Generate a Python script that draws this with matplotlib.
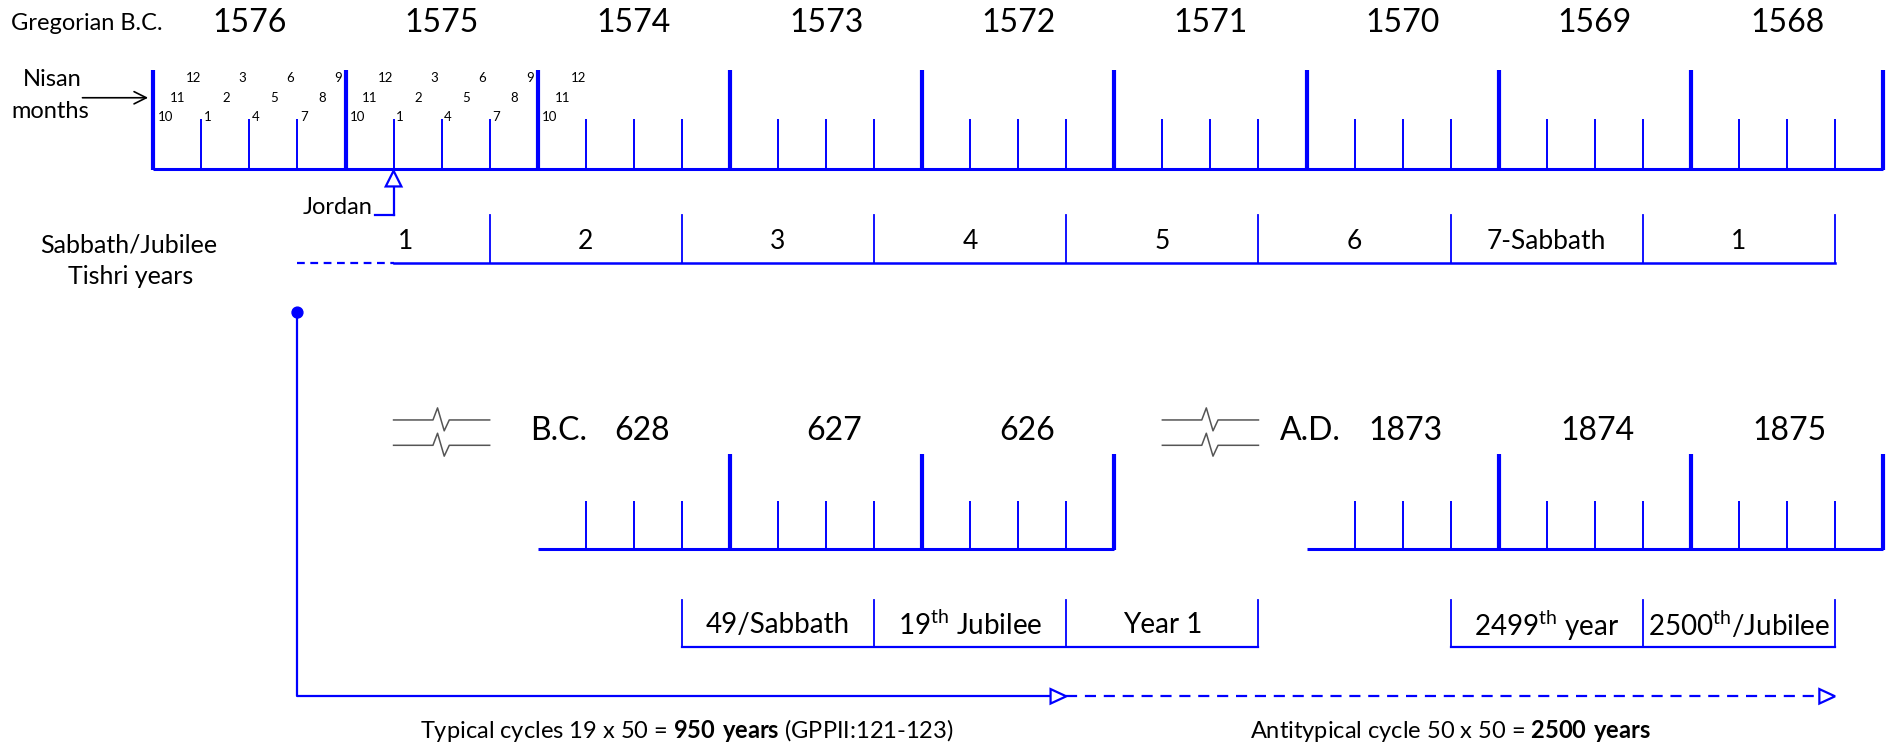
import matplotlib.pyplot as plt
from matplotlib.patches import Polygon, Circle

plt.rcParams["font.family"] = ["Lato", "DejaVu Sans"]
plt.rcParams["mathtext.fontset"] = "custom"
plt.rcParams["mathtext.rm"] = "Lato"
plt.rcParams["mathtext.bf"] = "Lato:bold"

BLUE = "#0000ff"
GRAY = "#555555"

# data
gregorian_years = [1576, 1575, 1574, 1573, 1572, 1571, 1570, 1569, 1568]
month_labels = ["10", "11", "12", "1", "2", "3", "4", "5", "6", "7", "8", "9"]
tishri_labels = ["1", "2", "3", "4", "5", "6", "7-Sabbath", "1"]
bc_years = [628, 627, 626]
ad_years = [1873, 1874, 1875]
typical_boxes = ["49/Sabbath", "19$^{\\rm th}$ Jubilee", "Year 1"]
antitypical_boxes = ["2499$^{\\rm th}$ year", "2500$^{\\rm th}$/Jubilee"]
jordan_t = 1.25          # Nisan of the 2nd year
typical_start_t = 0.75   # Tishri before Jordan

# layout (units = pixels of a 1568 wide canvas)
X0, YW = 127, 159.2


def X(t):
    return X0 + YW * t


def open_head(ax, x, y, direction, length=14, half=6.5):
    if direction == "right":
        pts = [(x, y), (x - length, y - half), (x - length, y + half)]
    else:  # up (y axis inverted)
        pts = [(x, y), (x - half, y + length), (x + half, y + length)]
    ax.add_patch(Polygon(pts, closed=True, fc="white", ec=BLUE, lw=1.6, zorder=5))


def timeline(ax, t0, t1, base, thick_top, thin_top, tick_at_start):
    ax.plot([X(t0), X(t1)], [base, base], color=BLUE, lw=2.2, solid_capstyle="butt")
    n = int(round((t1 - t0) * 4))
    for q in range(0 if tick_at_start else 1, n + 1):
        t = t0 + q / 4
        if q % 4 == 0:
            ax.plot([X(t), X(t)], [base + 1, thick_top], color=BLUE, lw=3.0, solid_capstyle="butt")
        else:
            ax.plot([X(t), X(t)], [base, thin_top], color=BLUE, lw=1.4, solid_capstyle="butt")


def open_boxes(ax, t_edges, top, base, labels, y_text, fs, label_x=None):
    ax.plot([X(t_edges[0]), X(t_edges[-1])], [base, base], color=BLUE, lw=1.6)
    for t in t_edges:
        ax.plot([X(t), X(t)], [top, base], color=BLUE, lw=1.3)
    for i, lab in enumerate(labels):
        xc = (X(t_edges[i]) + X(t_edges[i + 1])) / 2 if label_x is None or label_x[i] is None else label_x[i]
        ax.text(xc, y_text, lab, ha="center", va="center", fontsize=fs)


def break_mark(ax, t0, t1, ys):
    xa, xb = X(t0), X(t1)
    xm = xa + 0.41 * (xb - xa)
    w = 13.5
    for y in ys:
        ax.plot([xa, xm, xm + 0.28 * w, xm + 0.69 * w, xm + w, xb],
                [y, y, y - 10, y + 9, y, y], color=GRAY, lw=1.1)


fig = plt.figure(figsize=(18.93, 7.47), dpi=100)
ax = fig.add_axes([0, 0, 1, 1])
ax.set_xlim(0, 1568)
ax.set_ylim(619, 0)
ax.axis("off")

# --- top: Gregorian years with Nisan months ---
ax.text(9.5, 19.5, "Gregorian B.C.", ha="left", va="center", fontsize=17)
for k, yr in enumerate(gregorian_years):
    ax.text(X(k + 0.5), 19, str(yr), ha="center", va="center", fontsize=23)

timeline(ax, 0, len(gregorian_years), 140, 58, 99, True)

rows_y = [97, 81, 65]
n_months = 12 * 2 + 3
for j in range(n_months):
    yr, i = divmod(j, 12)
    lab = month_labels[i]
    xb = X(yr) + i * YW / 12
    if i % 3 == 0:
        ax.text(xb + (3.5 if i == 0 else 2), rows_y[0], lab, ha="left", va="center", fontsize=9.5)
    else:
        ax.text(xb + 7, rows_y[i % 3], lab, ha="center", va="center", fontsize=9.5)

ax.text(19, 66, "Nisan", ha="left", va="center", fontsize=17)
ax.text(9.5, 92, "months", ha="left", va="center", fontsize=17)
ax.annotate("", xy=(X(0) - 2, 81), xytext=(66, 81),
            arrowprops=dict(arrowstyle="->", color="black", lw=1.2, mutation_scale=22))

# Jordan crossing
xj = X(jordan_t)
ax.plot([xj, xj], [153, 178], color=BLUE, lw=1.6)
ax.plot([xj, 311], [178, 178], color=BLUE, lw=1.6)
open_head(ax, xj, 141.5, "up", length=13, half=6.5)
ax.text(309, 172, "Jordan", ha="right", va="center", fontsize=17)

# --- Sabbath / Jubilee Tishri years ---
ax.text(107, 203, "Sabbath/Jubilee", ha="center", va="center", fontsize=18)
ax.text(108, 229, "Tishri years", ha="center", va="center", fontsize=18)
ax.plot([X(typical_start_t), xj], [218, 218], color=BLUE, lw=1.6, ls=(0, (3.5, 2.5)))
ax.plot([xj, X(len(tishri_labels) + 0.75)], [218, 218], color=BLUE, lw=1.8)
for k in range(len(tishri_labels)):
    tx = X(k + 1.75)
    ax.plot([tx, tx], [178, 218], color=BLUE, lw=1.3)
for k, lab in enumerate(tishri_labels):
    if k == 0:
        xc = xj + 10
    else:
        xc = (X(k + 0.75) + X(k + 1.75)) / 2
    ax.text(xc, 200, lab, ha="center", va="center", fontsize=19)

# --- lower timelines ---
break_mark(ax, 1.25, 1.75, [348, 369])
break_mark(ax, 5.25, 5.75, [348, 369])
ax.text(463, 357, "B.C.", ha="center", va="center", fontsize=23)
for k, yr in enumerate(bc_years):
    ax.text(X(2 + k + 0.5) + 7, 357, str(yr), ha="center", va="center", fontsize=23)
ax.text(1085, 357, "A.D.", ha="center", va="center", fontsize=23)
for k, yr in enumerate(ad_years):
    ax.text(X(6 + k + 0.5) + 2, 357, str(yr), ha="center", va="center", fontsize=23)

timeline(ax, 2, 5, 455, 376, 415, False)
timeline(ax, 6, 9, 455, 376, 415, False)

open_boxes(ax, [2.75, 3.75, 4.75, 5.75], 497, 536, typical_boxes, 518, 20)
open_boxes(ax, [6.75, 7.75, 8.75], 497, 536, antitypical_boxes, 518, 20)

# --- cycle arrows ---
xs = X(typical_start_t)
ax.add_patch(Circle((xs, 259), 4.5, color=BLUE, zorder=4))
ax.plot([xs, xs, X(4.75) - 13], [259, 577, 577], color=BLUE, lw=1.6)
open_head(ax, X(4.75), 577, "right", length=13, half=6)
ax.plot([X(4.75), X(8.75) - 13], [577, 577], color=BLUE, lw=1.6, ls=(0, (5, 3.5)))
open_head(ax, X(8.75), 577, "right", length=13, half=6)

ax.text(X(2.75) + 4, 605, "Typical cycles 19 x 50 = $\\mathbf{950\\ years}$ (GPPII:121-123)",
        ha="center", va="center", fontsize=17)
ax.text(X(6.75), 606, "Antitypical cycle 50 x 50 = $\\mathbf{2500\\ years}$",
        ha="center", va="center", fontsize=17)

fig.savefig("out.png", dpi=100)
